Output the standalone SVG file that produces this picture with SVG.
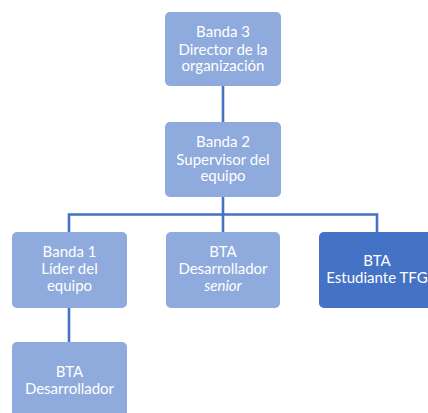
<svg xmlns="http://www.w3.org/2000/svg" width="428" height="413" viewBox="0 0 428 413">
  <style>
    .box { fill: #8FAADC; }
    .box.accent { fill: #4472C4; }
    .label { font-family: "Lato", "Open Sans", "Liberation Sans", sans-serif; font-size: 15px; fill: #FFFFFF; text-anchor: middle; }
    .link { stroke: #4472C4; stroke-width: 2.6; fill: none; }
  </style>
  <rect width="428" height="413" fill="#FFFFFF"/>

  <!-- reporting lines -->
  <g id="connectors">
    <line class="link" x1="223" y1="86" x2="223" y2="122"/>
    <line class="link" x1="223" y1="197" x2="223" y2="232"/>
    <polyline class="link" points="69,232 69,214.5 377,214.5 377,232"/>
    <line class="link" x1="69" y1="308" x2="69" y2="342"/>
  </g>

  <g id="banda3">
    <rect class="box" x="165" y="12" width="116" height="74" rx="5"/>
    <text class="label" x="223" y="37">Banda 3</text>
    <text class="label" x="223" y="54.5">Director de la</text>
    <text class="label" x="223" y="71">organización</text>
  </g>

  <g id="banda2">
    <rect class="box" x="165" y="122" width="116" height="75" rx="5"/>
    <text class="label" x="223" y="147">Banda 2</text>
    <text class="label" x="223" y="164.5">Supervisor del</text>
    <text class="label" x="223" y="181">equipo</text>
  </g>

  <g id="banda1">
    <rect class="box" x="12" y="232" width="115" height="76" rx="5"/>
    <text class="label" x="69.5" y="257">Banda 1</text>
    <text class="label" x="69.5" y="274">Líder del</text>
    <text class="label" x="69.5" y="291">equipo</text>
  </g>

  <g id="bta-senior">
    <rect class="box" x="166" y="232" width="114" height="76" rx="5"/>
    <text class="label" x="223" y="257">BTA</text>
    <text class="label" x="223" y="274">Desarrollador</text>
    <text class="label" x="223" y="291" font-style="italic">senior</text>
  </g>

  <g id="bta-tfg">
    <rect class="box accent" x="319" y="232" width="116" height="76" rx="5"/>
    <text class="label" x="377" y="266">BTA</text>
    <text class="label" x="377" y="283">Estudiante TFG</text>
  </g>

  <g id="bta-desarrollador">
    <rect class="box" x="12" y="342" width="115" height="80" rx="5"/>
    <text class="label" x="69.5" y="377">BTA</text>
    <text class="label" x="69.5" y="394">Desarrollador</text>
  </g>
</svg>
